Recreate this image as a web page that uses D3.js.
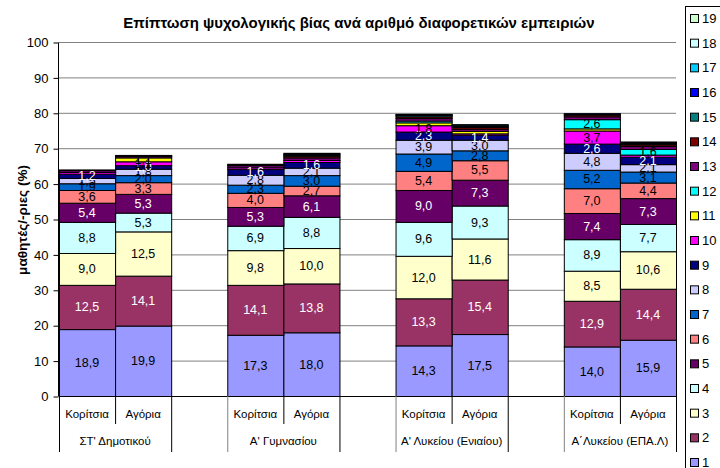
<!DOCTYPE html>
<html>
<head>
<meta charset="utf-8">
<script src="https://cdn.jsdelivr.net/npm/d3@7"></script>
<style>
  body { margin: 0; background: #fff; }
  svg { font-family: "Liberation Sans", Arial, sans-serif; }
</style>
</head>
<body>
<div id="chart"></div>
<script>
// chart data
var groups = ["ΣΤ' Δημοτικού", "Α' Γυμνασίου", "Α' Λυκείου (Ενιαίου)", "Α΄Λυκείου (ΕΠΑ.Λ)"];
var genders = ["Κορίτσια", "Αγόρια"];
var seriesKeys = ["1", "2", "3", "4", "5", "6", "7", "8", "9", "10",
    "11", "12", "13", "14", "15", "16", "17", "18", "19"];
var yTicks = [0, 10, 20, 30, 40, 50, 60, 70, 80, 90, 100];

// one array per bar, values for series 1..19
var dimGirls  = [18.9, 12.5, 9.0, 8.8, 5.4, 3.6, 1.9, 1.5, 1.2, 0.5, 0, 0, 0.5, 0.2, 0, 0, 0, 0, 0];
var dimBoys   = [19.9, 14.1, 12.5, 5.3, 5.3, 3.3, 2.0, 1.8, 1.0, 1.1, 1.1, 0, 0.4, 0.2, 0.1, 0, 0, 0, 0];
var gymGirls  = [17.3, 14.1, 9.8, 6.9, 5.3, 4.0, 2.3, 2.8, 1.6, 0.5, 0, 0, 0.6, 0.3, 0.1, 0, 0, 0, 0];
var gymBoys   = [18.0, 13.8, 10.0, 8.8, 6.1, 2.7, 3.0, 2.1, 1.6, 0.6, 0, 0, 0.7, 0.5, 0.3, 0.3, 0, 0, 0.2];
var lykGirls  = [14.3, 13.3, 12.0, 9.6, 9.0, 5.4, 4.9, 3.9, 2.3, 1.8, 0.8, 0.5, 0.7, 0.5, 0.4, 0.2, 0.1, 0, 0];
var lykBoys   = [17.5, 15.4, 11.6, 9.3, 7.3, 5.5, 2.8, 3.0, 1.4, 0.4, 0.7, 0, 0.6, 0.5, 0.3, 0.3, 0.2, 0, 0];
var epalGirls = [14.0, 12.9, 8.5, 8.9, 7.4, 7.0, 5.2, 4.8, 2.6, 3.7, 0.6, 2.6, 0.8, 0.5, 0.2, 0.2, 0, 0, 0];
var epalBoys  = [15.9, 14.4, 10.6, 7.7, 7.3, 4.4, 3.1, 2.1, 2.1, 0.6, 0, 1.6, 0.8, 0.5, 0.3, 0.3, 0.2, 0, 0];

var colors = ["#9999FF", "#993366", "#FFFFCC", "#CCFFFF", "#660066", "#FF8080", "#0066CC", "#CCCCFF",
    "#000080", "#FF00FF", "#FFFF00", "#00FFFF", "#800080", "#800000", "#008080", "#0000FF",
    "#00CCFF", "#CCFFFF", "#CCFFCC"];
var darkSeries = ["2", "5", "9", "13", "14"];

// 11 slots: girl, boy, empty per group (no empty slot after last group)
var bars = [dimGirls, dimBoys, null, gymGirls, gymBoys, null, lykGirls, lykBoys, null, epalGirls, epalBoys];
var table = [];
bars.forEach(function (b, i) {
    var row = {slot: "c" + i};
    seriesKeys.forEach(function (k, j) { row[k] = b ? b[j] : 0; });
    table.push(row);
});

var width = 720, height = 468;
var svg = d3.select("#chart").append("svg")
    .attr("width", width)
    .attr("height", height);

var x = d3.scaleBand()
    .domain(table.map(function (d) { return d.slot; }))
    .range([59, 676])
    .padding(0);

var y = d3.scaleLinear()
    .domain([0, 100])
    .range([396, 42]);

var color = d3.scaleOrdinal().domain(seriesKeys).range(colors);

// gridlines
svg.append("g")
    .selectAll("line")
    .data(yTicks.slice(1))
    .enter().append("line")
    .attr("x1", 59).attr("x2", 676)
    .attr("y1", function (d) { return y(d) + 0.5; })
    .attr("y2", function (d) { return y(d) + 0.5; })
    .style("stroke", "#808080");

// y axis
var yAxis = svg.append("g")
    .attr("transform", "translate(58.5,0.5)")
    .call(d3.axisLeft(y).tickValues(yTicks).tickSize(5).tickPadding(5));
yAxis.select(".domain").attr("d", "M0," + y(100) + "V" + y(0)).style("stroke", "#000");
yAxis.selectAll(".tick line").style("stroke", "#000");
yAxis.selectAll("text").style("font-size", "13px").style("fill", "#000")
    .style("font-family", "'Liberation Sans', Arial, sans-serif");

// stacked bars
var stack = d3.stack().keys(seriesKeys);
var layers = stack(table);

var layer = svg.append("g").selectAll("g")
    .data(layers)
    .enter().append("g")
    .style("fill", function (d) { return color(d.key); });

layer.selectAll("rect")
    .data(function (d) { return d.filter(function (p) { return p[1] - p[0] > 0; }); })
    .enter().append("rect")
    .attr("x", function (d) { return x(d.data.slot) + 0.5; })
    .attr("width", x.bandwidth())
    .attr("y", function (d) { return y(d[1]) + 0.5; })
    .attr("height", function (d) { return y(d[0]) - y(d[1]); })
    .style("stroke", "#000")
    .style("stroke-width", 1);

// value labels
layers.forEach(function (l) {
    svg.append("g").selectAll("text")
        .data(l.filter(function (p) { return p[1] - p[0] >= 1; }))
        .enter().append("text")
        .attr("x", function (d) { return x(d.data.slot) + x.bandwidth() / 2; })
        .attr("y", function (d) { return (y(d[0]) + y(d[1])) / 2 + 4.5; })
        .attr("text-anchor", "middle")
        .style("font-size", "12.5px")
        .style("fill", darkSeries.indexOf(l.key) >= 0 ? "#fff" : "#000")
        .text(function (d) { return (d[1] - d[0]).toFixed(1).replace(".", ","); });
});

// x axis line
svg.append("line")
    .attr("x1", 59).attr("x2", 676)
    .attr("y1", 396.5).attr("y2", 396.5)
    .style("stroke", "#000");

// category labels and dividers
groups.forEach(function (g, gi) {
    var left = x("c" + gi * 3), mid = x("c" + (gi * 3 + 1)), right = mid + x.bandwidth();
    svg.append("line")
        .attr("x1", left + 0.5).attr("x2", left + 0.5)
        .attr("y1", 396).attr("y2", 452)
        .style("stroke", gi === 0 ? "#000" : "#808080");
    svg.append("line")
        .attr("x1", mid + 0.5).attr("x2", mid + 0.5)
        .attr("y1", 396).attr("y2", 424)
        .style("stroke", "#000");
    svg.append("line")
        .attr("x1", right + 0.5).attr("x2", right + 0.5)
        .attr("y1", 396).attr("y2", 452)
        .style("stroke", "#000");
    genders.forEach(function (s, si) {
        svg.append("text")
            .attr("x", (si === 0 ? left : mid) + x.bandwidth() / 2)
            .attr("y", 418)
            .attr("text-anchor", "middle")
            .style("font-size", "11.5px")
            .text(s);
    });
    svg.append("text")
        .attr("x", (left + right) / 2)
        .attr("y", 445)
        .attr("text-anchor", "middle")
        .style("font-size", "11.5px")
        .text(g);
});

// title
svg.append("text")
    .attr("x", 359)
    .attr("y", 28)
    .attr("text-anchor", "middle")
    .style("font-size", "15px")
    .style("font-weight", "bold")
    .text("Επίπτωση ψυχολογικής βίας ανά αριθμό διαφορετικών εμπειριών");

// y axis title
svg.append("text")
    .attr("transform", "translate(27,220) rotate(-90)")
    .attr("text-anchor", "middle")
    .style("font-size", "13.5px")
    .style("font-weight", "bold")
    .text("μαθητές/-ριες (%)");

// legend
var legend = svg.append("g");
legend.append("rect")
    .attr("x", 685.5).attr("y", 6.5)
    .attr("width", 60).attr("height", 480)
    .style("fill", "#fff")
    .style("stroke", "#000");

var legendY = d3.scalePoint()
    .domain(seriesKeys.slice().reverse())
    .range([18, 462]);

var item = legend.selectAll("g.item")
    .data(seriesKeys)
    .enter().append("g")
    .attr("class", "item")
    .attr("transform", function (d) { return "translate(690," + legendY(d) + ")"; });

item.append("rect")
    .attr("x", 0.5).attr("y", -3.5)
    .attr("width", 8).attr("height", 8)
    .style("fill", function (d) { return color(d); })
    .style("stroke", "#000");

item.append("text")
    .attr("x", 12)
    .attr("y", 5)
    .style("font-size", "13px")
    .text(function (d) { return d; });
</script>
</body>
</html>
